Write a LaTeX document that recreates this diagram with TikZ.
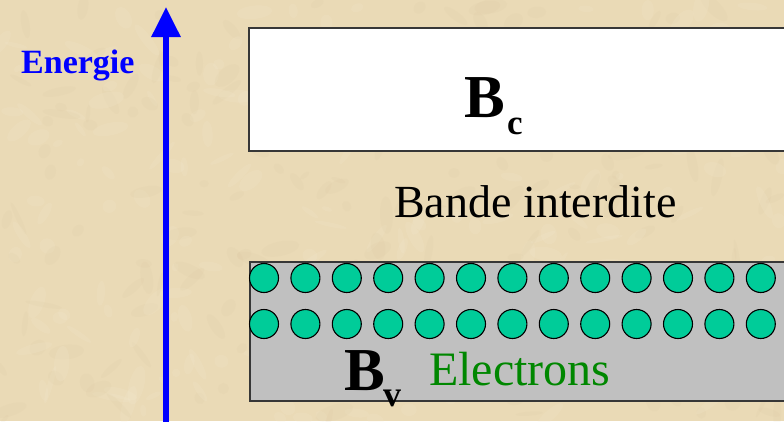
\documentclass[tikz,border=0pt]{standalone}
\usepackage{fontspec}
\setmainfont{Liberation Serif}
\usetikzlibrary{arrows.meta}
\definecolor{parchment}{RGB}{234,218,182}
\definecolor{parchdark}{RGB}{205,182,140}
\definecolor{parchlight}{RGB}{246,236,212}
\definecolor{electron}{RGB}{0,204,153}
\definecolor{bandgray}{RGB}{192,192,192}
\definecolor{bandedge}{RGB}{55,55,55}
\definecolor{textgreen}{RGB}{0,135,0}
\tikzset{
  band/.style={draw=bandedge, line width=2pt},
  label/.style={inner sep=0pt, anchor=base west},
  electronball/.style={draw=black, line width=1.1pt, fill=electron},
}
\newcommand{\fsz}[1]{\fontsize{#1}{#1}\selectfont}
\begin{document}
\begin{tikzpicture}[x=1pt,y=-1pt]
  % parchment background and page frame
  \fill[parchment] (0,0) rectangle (784,421);
  \useasboundingbox (0,0) rectangle (784,421);
  \clip (0,0) rectangle (784,421);
  % mottled paper grain
  \pgfmathsetseed{11}
  \foreach \k in {1,...,420}{
    \pgfmathsetmacro{\px}{784*rnd}
    \pgfmathsetmacro{\py}{421*rnd}
    \pgfmathsetmacro{\rx}{4+16*rnd}
    \pgfmathsetmacro{\ry}{2+6*rnd}
    \pgfmathsetmacro{\ang}{360*rnd}
    \ifodd\k
      \fill[parchdark, opacity=0.07, rotate around={\ang:(\px,\py)}] (\px,\py) ellipse ({\rx} and {\ry});
    \else
      \fill[parchlight, opacity=0.16, rotate around={\ang:(\px,\py)}] (\px,\py) ellipse ({\rx} and {\ry});
    \fi
  }

  % energy axis
  \coordinate (axisfoot) at (166,425);
  \coordinate (axistip) at (166,7);
  \draw[blue, line width=6pt, -{Triangle[width=28pt,length=30pt]}] (axisfoot) -- (axistip);
  \node[label, blue, font=\bfseries\fsz{34}] (energie) at (21,73) {Energie};

  % conduction band
  \draw[band, fill=white] (249,28) rectangle (800,151);
  \node[label, font=\bfseries\fsz{61}] (bc) at (464,117) {B};
  \node[label, font=\bfseries\fsz{35}] (bcsub) at (507,134) {c};

  % forbidden gap
  \node[label, font=\fsz{46}] (gap) at (394,217) {Bande interdite};

  % valence band filled with electrons
  \draw[band, fill=bandgray] (250,262) rectangle (800,401);
  \foreach \i in {0,...,12}{
    \draw[electronball] (264+41.4*\i,278) circle (14.5);
    \draw[electronball] (264+41.4*\i,324) circle (14.5);
  }
  \node[label, font=\bfseries\fsz{61}] (bv) at (344,390) {B};
  \node[label, font=\bfseries\fsz{36}] (bvsub) at (383,406) {v};
  \node[label, textgreen, font=\fsz{48}] (electrons) at (429,385) {Electrons};
\end{tikzpicture}
\end{document}
